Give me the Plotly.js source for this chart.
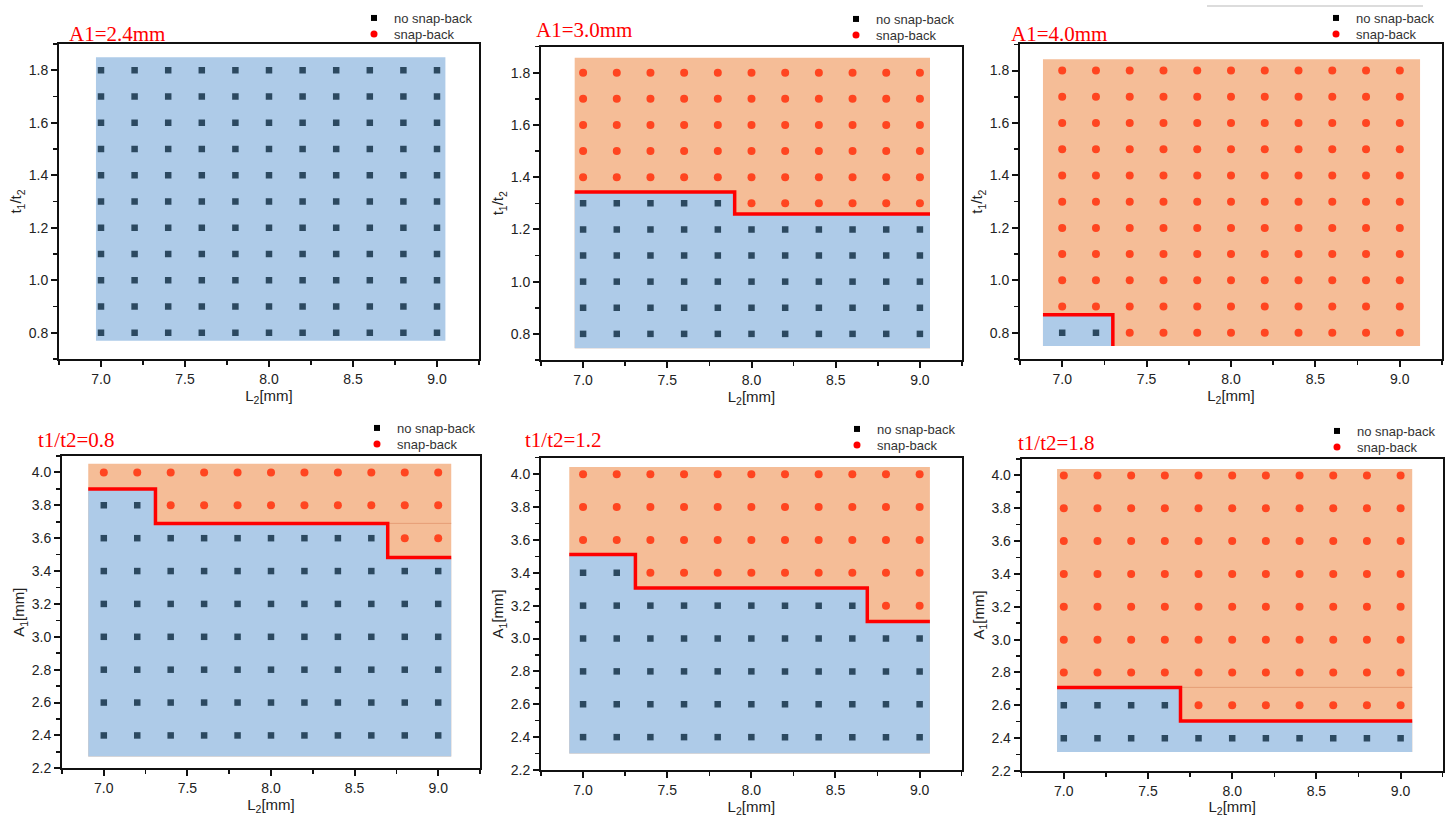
<!DOCTYPE html>
<html>
<head>
<meta charset="utf-8">
<script src="https://cdn.plot.ly/plotly-3.0.1.min.js"></script>
<style>html,body{margin:0;padding:0;background:#fff;}#chart{width:1456px;height:817px;}</style>
</head>
<body>
<div id="chart"></div>
<script>
// ---------- DATA ----------
const titles = ["A1=2.4mm", "A1=3.0mm", "A1=4.0mm", "t1/t2=0.8", "t1/t2=1.2", "t1/t2=1.8"];
const xLabel = "L<sub>2</sub>[mm]";
const yLabelTop = "t<sub>1</sub>/t<sub>2</sub>";
const yLabelBottom = "A<sub>1</sub>[mm]";
const legendNames = ["no snap-back", "snap-back"];

const L2 = [7.0, 7.2, 7.4, 7.6, 7.8, 8.0, 8.2, 8.4, 8.6, 8.8, 9.0];
const ratioValues = [1.8, 1.7, 1.6, 1.5, 1.4, 1.3, 1.2, 1.1, 1.0, 0.9, 0.8];
const A1Values = [4.0, 3.8, 3.6, 3.4, 3.2, 3.0, 2.8, 2.6, 2.4];

// 1 = snap-back, 0 = no snap-back ; rows top to bottom, columns follow L2
const grid1 = ["00000000000","00000000000","00000000000","00000000000","00000000000","00000000000",
               "00000000000","00000000000","00000000000","00000000000","00000000000"];
const grid2 = ["11111111111","11111111111","11111111111","11111111111","11111111111","00000111111",
               "00000000000","00000000000","00000000000","00000000000","00000000000"];
const grid3 = ["11111111111","11111111111","11111111111","11111111111","11111111111","11111111111",
               "11111111111","11111111111","11111111111","11111111111","00111111111"];
const grid4 = ["11111111111","00111111111","00000000011","00000000000","00000000000","00000000000",
               "00000000000","00000000000","00000000000"];
const grid5 = ["11111111111","11111111111","11111111111","00111111111","00000000011","00000000000",
               "00000000000","00000000000","00000000000"];
const grid6 = ["11111111111","11111111111","11111111111","11111111111","11111111111","11111111111",
               "11111111111","00001111111","00000000000"];

// shaded region extents [min, max]
const region1X = [6.97, 9.05],  region1Y = [0.77, 1.85];
const region2X = [6.95, 9.06],  region2Y = [0.745, 1.857];
const region3X = [6.886, 9.12], region3Y = [0.75, 1.843];
const region4X = [6.907, 9.078], region4Y = [2.272, 4.053];
const region5X = [6.918, 9.061], region5Y = [2.30, 4.044];
const region6X = [6.96, 9.069], region6Y = [2.315, 4.039];

// red boundary lines
const bound2X = [6.95, 7.9, 7.9, 9.06],   bound2Y = [1.343, 1.343, 1.259, 1.259];
const bound3X = [6.886, 7.30, 7.30],      bound3Y = [0.869, 0.869, 0.75];
const bound4X = [6.907, 7.309, 7.309, 8.698, 8.698, 9.078], bound4Y = [3.899, 3.899, 3.69, 3.69, 3.483, 3.483];
const bound5X = [6.918, 7.311, 7.311, 8.689, 8.689, 9.061], bound5Y = [3.511, 3.511, 3.307, 3.307, 3.104, 3.104];
const bound6X = [6.96, 7.693, 7.693, 9.069], bound6Y = [2.709, 2.709, 2.505, 2.505];

// faint seams inside the orange region
const seam4X = [8.698, 9.078], seam4Y = [3.69, 3.69];
const seam6X = [7.693, 9.069], seam6Y = [2.709, 2.709];

// ---------- STYLE ----------
const BLUE = "#aecbe8", ORANGE = "#f5bd97", SQ = "#2c4960", DOT = "#ff4520";
const sans = "Liberation Sans, Arial, sans-serif";
const serif = "Liberation Serif, Times New Roman, serif";

const panels = [
  {ys: ratioValues, grid: grid1, rx: region1X, ry: region1Y, bx: null, by: null, sx: null, sy: null},
  {ys: ratioValues, grid: grid2, rx: region2X, ry: region2Y, bx: bound2X, by: bound2Y, sx: null, sy: null},
  {ys: ratioValues, grid: grid3, rx: region3X, ry: region3Y, bx: bound3X, by: bound3Y, sx: null, sy: null},
  {ys: A1Values, grid: grid4, rx: region4X, ry: region4Y, bx: bound4X, by: bound4Y, sx: seam4X, sy: seam4Y},
  {ys: A1Values, grid: grid5, rx: region5X, ry: region5Y, bx: bound5X, by: bound5Y, sx: null, sy: null},
  {ys: A1Values, grid: grid6, rx: region6X, ry: region6Y, bx: bound6X, by: bound6Y, sx: seam6X, sy: seam6Y}
];

// layout geometry in pixels (left, right, top, bottom)
const W = 1456, H = 817;
const boxes = [
  [59, 479, 44, 359], [541, 962, 46.5, 360], [1020, 1442, 44.3, 359],
  [62, 480, 456, 768.3], [541, 961.7, 457.7, 770], [1021.7, 1442.7, 459, 771]
];
const titlePos = [[67, 34.5], [534, 30], [1009, 34], [36, 440], [523, 440], [1016, 443]];
// marker centre x, row1 y, row2 y
const legendPos = [[375, 17, 33], [857, 18, 34], [1337, 17, 33], [378, 427, 443], [858, 428, 444], [1338, 430, 446]];

const traces = [];
const layout = {
  width: W, height: H, margin: {l: 0, r: 0, t: 0, b: 0},
  paper_bgcolor: "#fff", plot_bgcolor: "#fff",
  showlegend: true, annotations: [], shapes: [],
  font: {family: sans, color: "#222"}
};

let legendCount = 0;
function nextLegend() {
  legendCount++;
  return legendCount === 1 ? "legend" : "legend" + legendCount;
}

panels.forEach((p, i) => {
  const n = i === 0 ? "" : String(i + 1);
  const xa = "x" + n, ya = "y" + n;
  const [x0, x1] = p.rx, [y0, y1] = p.ry;

  if (p.bx) {
    traces.push({type: "scatter", mode: "lines", xaxis: xa, yaxis: ya, showlegend: false, hoverinfo: "skip",
      x: [x0, x1, x1, x0, x0], y: [y0, y0, y1, y1, y0], fill: "toself", fillcolor: ORANGE,
      line: {width: 0, color: ORANGE}});
    const lastX = p.bx[p.bx.length - 1];
    traces.push({type: "scatter", mode: "lines", xaxis: xa, yaxis: ya, showlegend: false, hoverinfo: "skip",
      x: [x0].concat(p.bx, [lastX, x0]), y: [y0].concat(p.by, [y0, y0]), fill: "toself", fillcolor: BLUE,
      line: {width: 0, color: BLUE}});
  } else {
    traces.push({type: "scatter", mode: "lines", xaxis: xa, yaxis: ya, showlegend: false, hoverinfo: "skip",
      x: [x0, x1, x1, x0, x0], y: [y0, y0, y1, y1, y0], fill: "toself", fillcolor: BLUE,
      line: {width: 0, color: BLUE}});
  }
  if (p.sx) {
    traces.push({type: "scatter", mode: "lines", xaxis: xa, yaxis: ya, showlegend: false, hoverinfo: "skip",
      x: p.sx, y: p.sy, line: {width: 1, color: "rgba(226,150,110,0.8)"}});
  }
  if (p.bx) {
    traces.push({type: "scatter", mode: "lines", xaxis: xa, yaxis: ya, showlegend: false, hoverinfo: "skip",
      x: p.bx, y: p.by, line: {width: 3.5, color: "#ff0000"}});
  }
  // points
  const nx = [], ny = [], sx = [], sy = [];
  p.grid.forEach((row, r) => {
    for (let c = 0; c < row.length; c++) {
      if (row[c] === "1") { sx.push(L2[c]); sy.push(p.ys[r]); }
      else { nx.push(L2[c]); ny.push(p.ys[r]); }
    }
  });
  traces.push({type: "scatter", mode: "markers", xaxis: xa, yaxis: ya, showlegend: false, hoverinfo: "skip",
    x: nx, y: ny, marker: {symbol: "square", size: 6.5, color: SQ}});
  traces.push({type: "scatter", mode: "markers", xaxis: xa, yaxis: ya, showlegend: false, hoverinfo: "skip",
    x: sx, y: sy, marker: {symbol: "circle", size: 8, color: DOT}});

  // legend entries: each entry in its own legend box so rows can sit close together
  const legSpec = [
    {name: legendNames[0], marker: {symbol: "square", size: 6, color: "#000"}, y: legendPos[i][1]},
    {name: legendNames[1], marker: {symbol: "circle", size: 7, color: "#ff0000"}, y: legendPos[i][2]}
  ];
  legSpec.forEach(s => {
    const leg = nextLegend();
    traces.push({type: "scatter", mode: "markers", xaxis: xa, yaxis: ya, legend: leg, name: s.name,
      x: [null], y: [null], marker: s.marker});
    layout[leg] = {
      x: (legendPos[i][0] - 21) / W, xanchor: "left",
      y: 1 - (s.y - 14) / H, yanchor: "top",
      bgcolor: "rgba(0,0,0,0)", borderwidth: 0,
      font: {size: 13, color: "#333", family: sans}
    };
  });

  const b = boxes[i];
  const top = i < 3;
  layout["xaxis" + n] = {
    domain: [b[0] / W, b[1] / W], anchor: ya, range: [6.75, 9.25],
    tick0: 7, dtick: 0.5, tickformat: ".1f", ticks: "outside", ticklen: 6, tickwidth: 2, tickcolor: "#111",
    minor: {dtick: 0.25, tick0: 7, ticks: "outside", ticklen: 4, tickwidth: 1.5, tickcolor: "#111"},
    showline: true, linewidth: 2, linecolor: "#111", mirror: true, showgrid: false, zeroline: false,
    tickfont: {size: 14, color: "#222", family: sans},
    title: {text: xLabel, font: {size: 15, color: "#222", family: sans}, standoff: 4}
  };
  layout["yaxis" + n] = {
    domain: [1 - b[3] / H, 1 - b[2] / H], anchor: xa,
    range: top ? [0.7, 1.9] : [2.2, 4.1],
    tick0: top ? 0.8 : 2.2, dtick: 0.2, tickformat: ".1f", ticks: "outside", ticklen: 6, tickwidth: 2, tickcolor: "#111",
    minor: {dtick: 0.1, ticks: "outside", ticklen: 4, tickwidth: 1.5, tickcolor: "#111"},
    showline: true, linewidth: 2, linecolor: "#111", mirror: true, showgrid: false, zeroline: false,
    tickfont: {size: 14, color: "#222", family: sans},
    title: {text: top ? yLabelTop : yLabelBottom, font: {size: 15, color: "#222", family: sans}, standoff: 3}
  };
  layout.annotations.push({
    xref: "paper", yref: "paper", x: titlePos[i][0] / W, y: 1 - titlePos[i][1] / H,
    xanchor: "left", yanchor: "middle", showarrow: false, text: titles[i],
    font: {family: serif, size: 21, color: "#ff0000"}
  });
});

// faint separator line at top of third panel
layout.shapes.push({type: "line", xref: "paper", yref: "paper",
  x0: 1207 / W, x1: 1423 / W, y0: 1 - 6 / H, y1: 1 - 6 / H, line: {color: "#dcdcdc", width: 2}});

Plotly.newPlot("chart", traces, layout, {staticPlot: true, displayModeBar: false});
</script>
</body>
</html>
